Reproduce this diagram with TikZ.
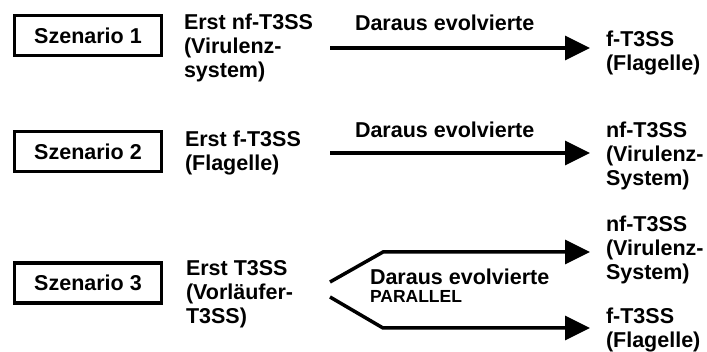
\documentclass[tikz,border=0pt]{standalone}
\usepackage{fontspec}
\setmainfont{Liberation Sans}
\usetikzlibrary{arrows.meta}
\begin{document}
\begin{tikzpicture}[x=1pt,y=-1pt,
  every node/.style={inner sep=0pt,outer sep=0pt,font=\fontsize{21.5}{24}\selectfont\bfseries},
  txt/.style={anchor=base west,align=left},
  szbox/.style={draw,line width=3.2pt,minimum width=147pt,minimum height=40pt,anchor=center},
  evo/.style={line width=3.5pt,-{Triangle[length=25pt,width=24pt]}},
  small/.style={font=\fontsize{17.5}{20}\selectfont\bfseries}]
\useasboundingbox (0,0) rectangle (707,352);
% scenario boxes
\node[szbox] (b1) at (88,35.5) {Szenario 1};
\node[szbox] (b2) at (88,151.5) {Szenario 2};
\node[szbox] (b3) at (88,283) {Szenario 3};
% source texts (anchored at the baseline of their last line)
\node[txt] (s1) at (184,77.5) {Erst nf-T3SS\\(Virulenz-\\system)};
\node[txt] (s2) at (185,170.5) {Erst f-T3SS\\(Flagelle)};
\node[txt] (s3) at (186,324) {Erst T3SS\\(Vorläufer-\\T3SS)};
% labels
\node[txt] (l1) at (355,31) {Daraus evolvierte};
\node[txt] (l2) at (355,138) {Daraus evolvierte};
\node[txt] (l3) at (370,285) {Daraus evolvierte};
\node[txt,small] (l3p) at (370,303) {PARALLEL};
% targets
\node[txt] (t1) at (606,70.5) {f-T3SS\\(Flagelle)};
\node[txt] (t2) at (606,186) {nf-T3SS\\(Virulenz-\\System)};
\node[txt] (t3a) at (606,280) {nf-T3SS\\(Virulenz-\\System)};
\node[txt] (t3b) at (606,348) {f-T3SS\\(Flagelle)};
% connector coordinates
\coordinate (a1s) at (330,48);
\coordinate (a1e) at (590,48);
\coordinate (a2s) at (330,153);
\coordinate (a2e) at (590,153);
\coordinate (a3us) at (330,282);
\coordinate (a3uk) at (383,252);
\coordinate (a3ue) at (590,252);
\coordinate (a3ls) at (330,297);
\coordinate (a3lk) at (383,328);
\coordinate (a3le) at (590,328);
\draw[evo] (a1s) -- (a1e);
\draw[evo] (a2s) -- (a2e);
\draw[evo] (a3us) -- (a3uk) -- (a3ue);
\draw[evo] (a3ls) -- (a3lk) -- (a3le);
\end{tikzpicture}
\end{document}
